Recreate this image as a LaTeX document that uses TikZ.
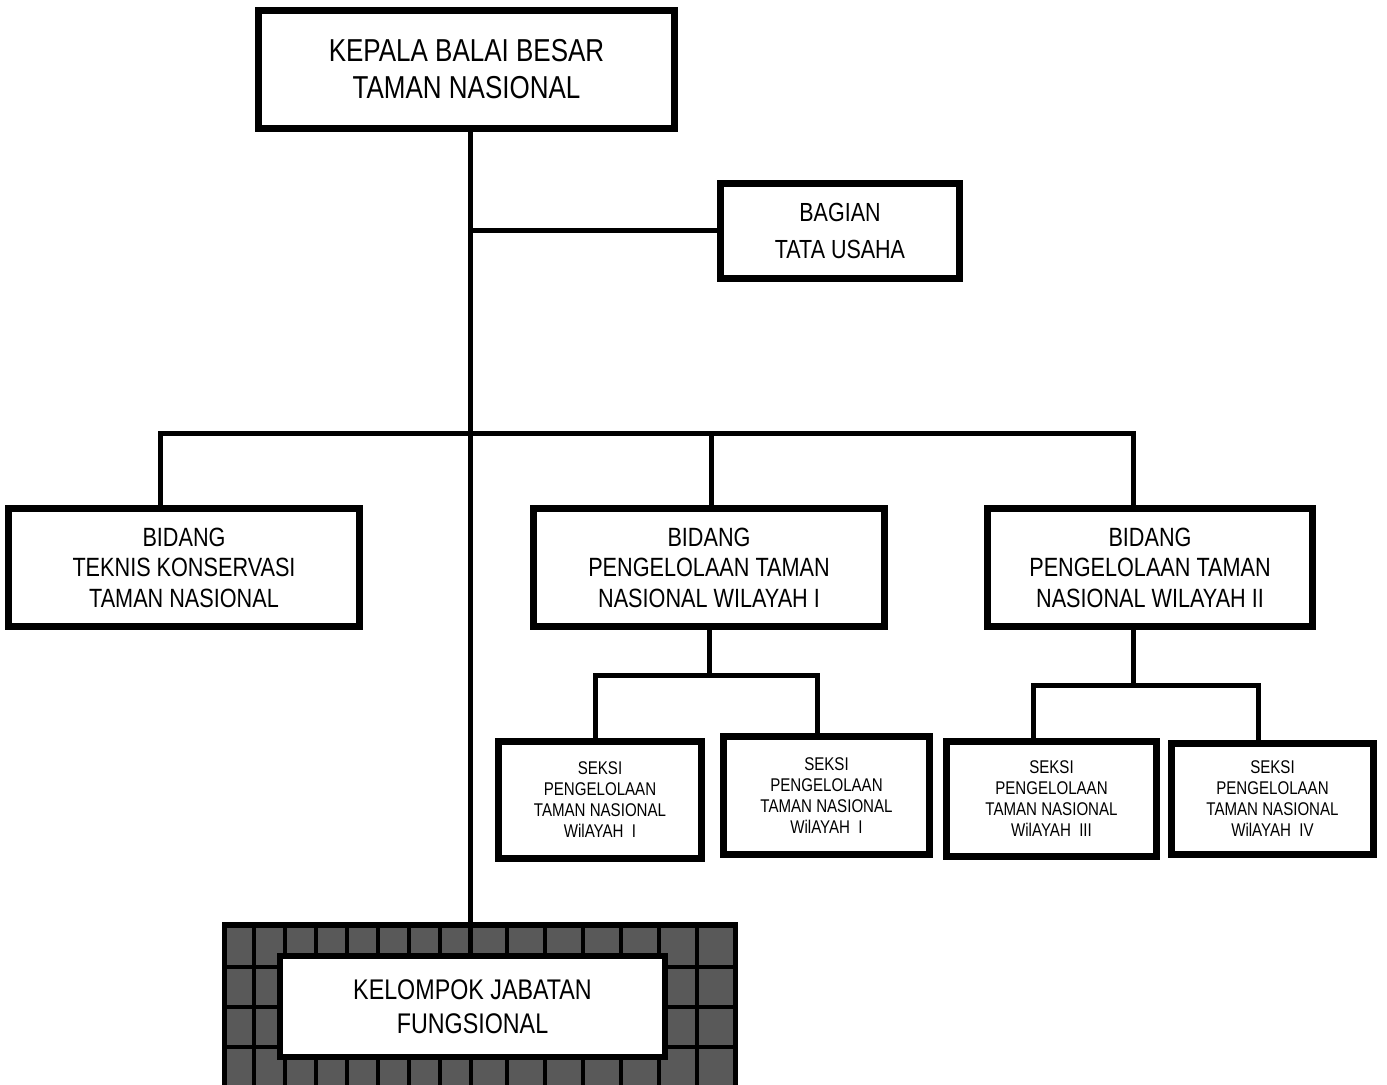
\documentclass[tikz,border=0pt]{standalone}
\usepackage{fontspec}
\setmainfont{Liberation Sans}[FakeStretch=0.82]
\definecolor{tile}{HTML}{595959}

\begin{document}
\begin{tikzpicture}[x=0.5pt,y=-0.5pt]
		\tikzstyle{box}=[draw=black,line width=3.3pt,fill=white,align=center,inner sep=0pt,rectangle]
		\tikzstyle{edge}=[draw=black,line width=2.5pt]
		\tikzstyle{grid}=[draw=black,line width=2pt]
		\tikzstyle{big}=[font=\fontsize{15.85pt}{18.5pt}\selectfont]
		\tikzstyle{mid}=[font=\fontsize{13.2pt}{15.25pt}\selectfont]
		\tikzstyle{small}=[font=\fontsize{9.2pt}{10.5pt}\selectfont]

		\useasboundingbox (0,0) rectangle (1387,1085);

		% tiled frame behind the functional group
		\begin{scope}
		 \clip (0,0) rectangle (1387,1085);
		 \path[grid,fill=tile,line width=2.8pt] (224.5,925) rectangle (735.5,1100);
		 \foreach \x in {254,285,...,471}
		   \path[grid] (\x,925) -- (\x,1100);
		 \foreach \x in {507,545,...,697}
		   \path[grid] (\x,925) -- (\x,1100);
		 \foreach \y in {967,1007,1047}
		   \path[grid] (224.5,\y) -- (735.5,\y);
		\end{scope}

		 \node [box,big,minimum width=208pt,minimum height=59pt] (kepala) at (466.5,69.5) {KEPALA BALAI BESAR\\TAMAN NASIONAL};
		 \node [box,font=\fontsize{13.1pt}{18.5pt}\selectfont,minimum width=119.5pt,minimum height=47.5pt] (bagian) at (840,231) {BAGIAN\\TATA USAHA};

		 \node [box,mid,minimum width=175.5pt,minimum height=59pt] (tk) at (184,567.5) {BIDANG\\TEKNIS KONSERVASI\\TAMAN NASIONAL};
		 \node [box,mid,minimum width=175.5pt,minimum height=59pt] (p1) at (709,567.5) {BIDANG\\PENGELOLAAN TAMAN\\NASIONAL WILAYAH I};
		 \node [box,mid,minimum width=162.5pt,minimum height=59pt] (p2) at (1150,567.5) {BIDANG\\PENGELOLAAN TAMAN\\NASIONAL WILAYAH II};

		 \node [box,small,minimum width=101.5pt,minimum height=58.5pt] (s1) at (600,800) {SEKSI\\PENGELOLAAN\\TAMAN NASIONAL\\WilAYAH\ \ I};
		 \node [box,small,minimum width=103pt,minimum height=59pt] (s2) at (826.5,795.5) {SEKSI\\PENGELOLAAN\\TAMAN NASIONAL\\WilAYAH\ \ I};
		 \node [box,small,minimum width=105pt,minimum height=57.5pt] (s3) at (1051.5,799) {SEKSI\\PENGELOLAAN\\TAMAN NASIONAL\\WilAYAH\ \ III};
		 \node [box,small,minimum width=101pt,minimum height=55.5pt] (s4) at (1272.5,799) {SEKSI\\PENGELOLAAN\\TAMAN NASIONAL\\WilAYAH\ \ IV};

		 \coordinate (trunk) at (470,434);
		 \coordinate (barL) at (160,434);
		 \coordinate (barR) at (1133,434);
		 \coordinate (barM) at (711,434);
		 \coordinate (subA) at (595,675);
		 \coordinate (subB) at (817,675);
		 \coordinate (subC) at (1033,685);
		 \coordinate (subD) at (1258,685);
		 \coordinate (subE) at (1133,685);

		 \path[edge] (trunk |- kepala.south) -- (trunk |- 0,953);
		 \path[edge] (trunk |- bagian.west) -- (bagian.west);
		 \path[edge] (barL |- tk.north) -- (barL) -- (barR) -- (barR |- p2.north);
		 \path[edge] (barM) -- (barM |- p1.north);

		 \path[edge] (p1.south) -- (p1.south |- subA);
		 \path[edge] (subA |- s1.north) -- (subA) -- (subB) -- (subB |- s2.north);
		 \path[edge] (subE |- p2.south) -- (subE);
		 \path[edge] (subC |- s3.north) -- (subC) -- (subD) -- (subD |- s4.north);

		 \node [box,line width=2.8pt,font=\fontsize{14.2pt}{17pt}\selectfont,minimum width=192.75pt,minimum height=50.75pt] (kelompok) at (472.5,1006.5) {KELOMPOK JABATAN\\FUNGSIONAL};

	\end{tikzpicture}
\end{document}
